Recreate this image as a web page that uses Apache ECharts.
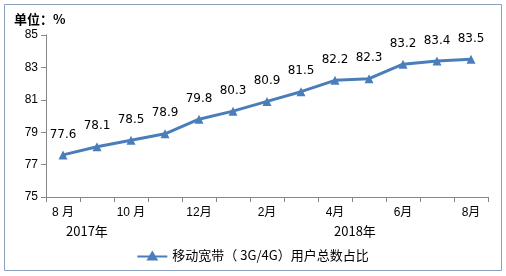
<!DOCTYPE html>
<html><head><meta charset="utf-8">
<script src="https://cdn.jsdelivr.net/npm/echarts@6/dist/echarts.min.js"></script>
<style>html,body{margin:0;padding:0;background:#fff}#c{width:506px;height:276px}</style>
</head><body><div id="c"></div>
<script>
const categories = ['8月','9月','10月','11月','12月','1月','2月','3月','4月','5月','6月','7月','8月'];
const shownLabels = ['8 月','','10 月','','12月','','2月','','4月','','6月','','8月'];
const values = [77.6,78.1,78.5,78.9,79.8,80.3,80.9,81.5,82.2,82.3,83.2,83.4,83.5];
const seriesName = '移动宽带（ 3G/4G）用户总数占比';
const yTicks = [75,77,79,81,83,85];
const years = ['2017年','2018年'];

const chart = echarts.init(document.getElementById('c'));
const font = '"Liberation Sans","Noto Sans CJK SC",sans-serif';
chart.setOption({
  animation:false,
  textStyle:{fontFamily:font},
  graphic:[
    {type:'rect',shape:{x:4.5,y:4.5,width:497,height:266},style:{fill:'none',stroke:'#8da0bb',lineWidth:1}},
    {type:'text',left:14,top:13,style:{text:'单位：%',font:'bold 13px "Noto Sans CJK SC",sans-serif',fill:'#000'}},
    {type:'text',left:66,top:225,style:{text:years[0],font:'13px "Noto Sans CJK SC","Liberation Serif",serif',fill:'#000'}},
    {type:'text',left:334,top:225,style:{text:years[1],font:'13px "Noto Sans CJK SC","Liberation Serif",serif',fill:'#000'}}
  ],
  grid:{left:46,right:18,top:35,bottom:79,containLabel:false},
  legend:{bottom:9,left:'center',itemWidth:30,itemHeight:10,itemGap:4,
    data:[{name:seriesName,icon:'path://M0,5 L12,5 L15,0 L18,5 L30,5 L30,7 L19,7 L21,10 L9,10 L11,7 L0,7 Z'}],
    textStyle:{fontSize:13,color:'#000',fontFamily:'"Noto Sans CJK SC",sans-serif'}},
  xAxis:{type:'category',data:categories,boundaryGap:true,
    axisLine:{lineStyle:{color:'#868686'}},
    axisTick:{show:true,alignWithLabel:false,interval:0,length:5,lineStyle:{color:'#868686'}},
    axisLabel:{interval:0,color:'#000',fontSize:12,margin:10,formatter:(v,i)=>shownLabels[i]}},
  yAxis:{type:'value',min:yTicks[0],max:yTicks[yTicks.length-1],interval:2,
    splitLine:{show:false},
    axisLine:{show:true,lineStyle:{color:'#868686'}},
    axisTick:{show:true,length:5,lineStyle:{color:'#868686'}},
    axisLabel:{color:'#000',fontSize:12,margin:8}},
  series:[{name:seriesName,type:'line',data:values,
    lineStyle:{color:'#4a7ebb',width:3},
    itemStyle:{color:'#4a7ebb'},
    symbol:'triangle',symbolSize:9,
    label:{show:true,position:'top',distance:10,color:'#000',fontSize:12,fontFamily:'"DejaVu Sans",sans-serif'}}]
});
</script></body></html>
